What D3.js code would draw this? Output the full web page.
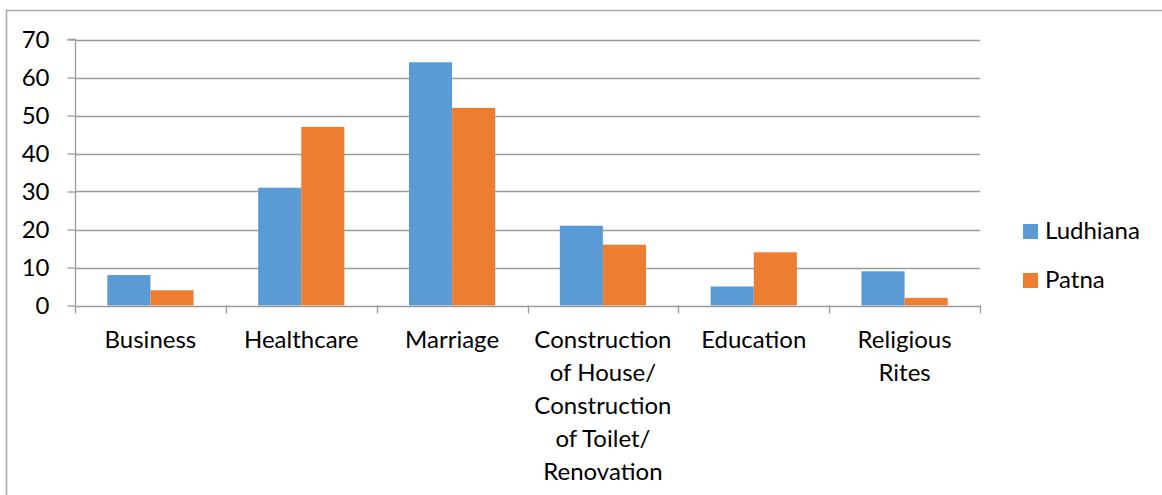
<!DOCTYPE html>
<html>
<head>
<meta charset="utf-8">
<script src="https://cdn.jsdelivr.net/npm/d3@7"></script>
<style>
  html, body { margin: 0; padding: 0; background: #fff; }
  svg { display: block; }
  text { font-family: Lato, "Open Sans", sans-serif; fill: #000; }
</style>
</head>
<body>
<svg id="chart" width="1162" height="495"></svg>
<script>
// Purpose of loans by district
const categories = [
  "Business",
  "Healthcare",
  "Marriage",
  "Construction\nof House/\nConstruction\nof Toilet/\nRenovation",
  "Education",
  "Religious\nRites"
];
const seriesNames = ["Ludhiana", "Patna"];
const ludhiana = [8, 31, 64, 21, 5, 9];
const patna = [4, 47, 52, 16, 14, 2];
const yTicks = [0, 10, 20, 30, 40, 50, 60, 70];
const colors = ["#5B9BD5", "#ED7D31"];

const svg = d3.select("#chart");
const fontSize = 24;
const margin = { left: 75, right: 182, top: 39.5, bottom: 189.5 };
const W = 1162, H = 495;

// outer chart frame
svg.append("rect")
  .attr("x", 6.5).attr("y", 10.5)
  .attr("width", 1300).attr("height", 700)
  .attr("fill", "none").attr("stroke", "#a6a6a6").attr("stroke-width", 1.5);

const x0 = d3.scaleBand()
  .domain(categories)
  .range([margin.left, W - margin.right])
  .paddingInner(1.5 / 3.5)
  .paddingOuter(0.75 / 3.5);
// full category slots for tick positions
const slot = d3.scaleBand().domain(categories).range([margin.left, W - margin.right]);
const x1 = d3.scaleBand().domain(seriesNames).range([0, x0.bandwidth()]);
const y = d3.scaleLinear().domain([0, 70]).range([H - margin.bottom, margin.top]);

const g = svg.append("g");

// horizontal gridlines
g.selectAll("line.grid").data(yTicks.filter(d => d > 0)).join("line")
  .attr("class", "grid")
  .attr("x1", margin.left).attr("x2", W - margin.right)
  .attr("y1", d => Math.round(y(d)) + 0.5).attr("y2", d => Math.round(y(d)) + 0.5)
  .attr("stroke", "#9c9c9c").attr("stroke-width", 1.3);

// bars
const data = categories.map((c, i) => ({ c, vals: [ludhiana[i], patna[i]] }));
const groups = g.selectAll("g.cat").data(data).join("g")
  .attr("transform", d => `translate(${x0(d.c)},0)`);
groups.selectAll("rect").data(d => d.vals.map((v, k) => ({ k, v }))).join("rect")
  .attr("x", d => x1(seriesNames[d.k]))
  .attr("width", x1.bandwidth())
  .attr("y", d => y(d.v))
  .attr("height", d => y(0) - y(d.v))
  .attr("fill", d => colors[d.k]);

// y axis
const yAxis = d3.axisLeft(y).tickValues(yTicks).tickSize(8).tickPadding(18);
const ya = svg.append("g").attr("transform", `translate(${margin.left + 0.5},0)`).call(yAxis);
ya.select(".domain").attr("stroke", "#9c9c9c").attr("stroke-width", 1.3)
  .attr("d", `M-8,${y(70)}H0V${y(0)}`);
ya.selectAll(".tick line").attr("stroke", "#9c9c9c").attr("stroke-width", 1.3);
ya.selectAll(".tick text").attr("font-size", fontSize).attr("font-family", "Lato, sans-serif").attr("fill", "#000");

// x axis baseline and category separators
const xa = svg.append("g");
xa.append("line")
  .attr("x1", margin.left).attr("x2", W - margin.right)
  .attr("y1", Math.round(y(0)) + 0.5).attr("y2", Math.round(y(0)) + 0.5)
  .attr("stroke", "#9c9c9c").attr("stroke-width", 1.3);
const sepX = categories.map(c => slot(c)).concat([W - margin.right]);
xa.selectAll("line.sep").data(sepX).join("line")
  .attr("class", "sep")
  .attr("x1", d => Math.round(d) + 0.5).attr("x2", d => Math.round(d) + 0.5)
  .attr("y1", y(0)).attr("y2", y(0) + 8)
  .attr("stroke", "#9c9c9c").attr("stroke-width", 1.3);

// category labels
const lineH = 33;
xa.selectAll("text.cat").data(categories).join("text")
  .attr("class", "cat")
  .attr("text-anchor", "middle")
  .attr("font-size", fontSize)
  .attr("transform", d => `translate(${slot(d) + slot.bandwidth() / 2},${y(0) + 42})`)
  .each(function (d) {
    d3.select(this).selectAll("tspan").data(d.split("\n")).join("tspan")
      .attr("x", 0).attr("y", (t, i) => i * lineH).text(t => t);
  });

// legend
const legend = svg.append("g").attr("transform", "translate(1023,224)");
const items = legend.selectAll("g").data(seriesNames).join("g")
  .attr("transform", (d, i) => `translate(0,${i * 49})`);
items.append("rect").attr("width", 15).attr("height", 15).attr("fill", (d, i) => colors[i]);
items.append("text").attr("x", 22).attr("y", 15).attr("font-size", fontSize).text(d => d);
</script>
</body>
</html>
